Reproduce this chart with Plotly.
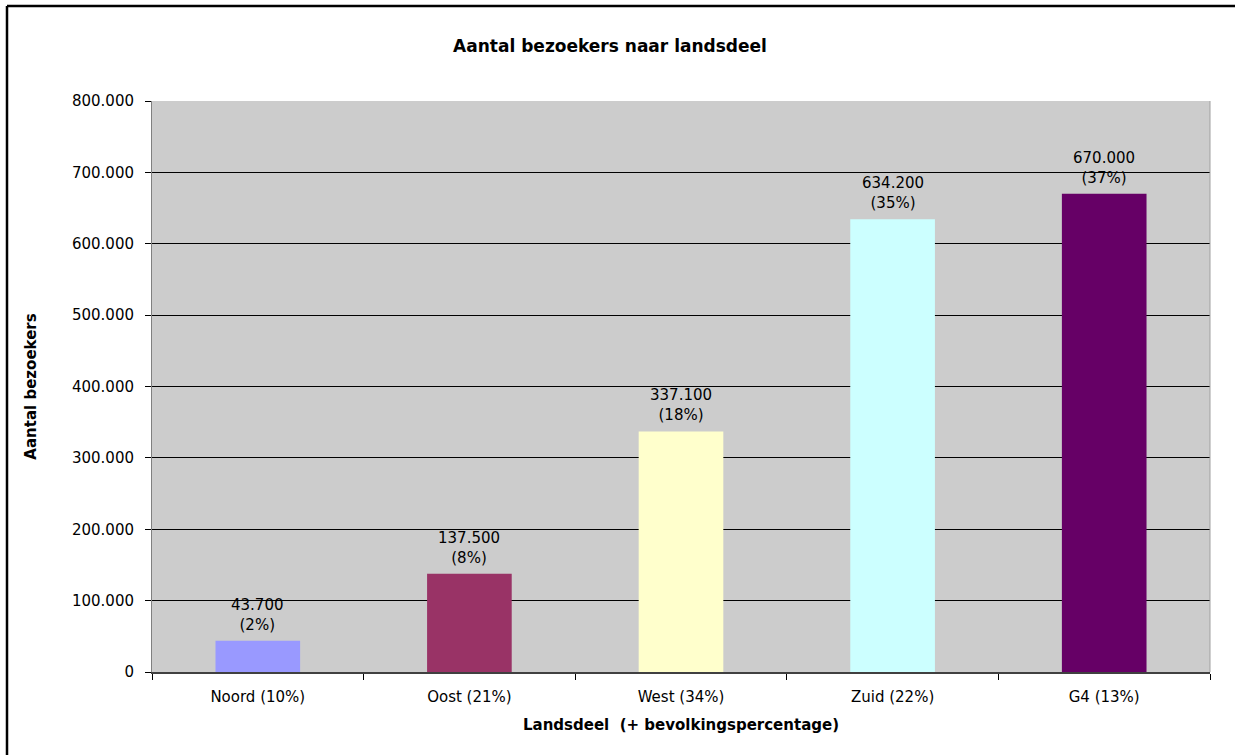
import plotly.graph_objects as go

categories = ["Noord (10%)", "Oost (21%)", "West (34%)", "Zuid (22%)", "G4 (13%)"]
visitors = [43700, 137500, 337100, 634200, 670000]
shares = ["2%", "8%", "18%", "35%", "37%"]
colors = ["#9999FF", "#993366", "#FFFFCC", "#CCFFFF", "#660066"]
y_ticks = [0, 100000, 200000, 300000, 400000, 500000, 600000, 700000, 800000]

labels = [f"{v:,}".replace(",", ".") + f"<br>({s})" for v, s in zip(visitors, shares)]

FONT = "Verdana, DejaVu Sans, sans-serif"
W, H = 1235, 755
L, R, T, B = 152, 25, 101, 83
PW, PH = W - L - R, H - T - B

fig = go.Figure(go.Bar(
    x=categories, y=visitors, marker=dict(color=colors, line=dict(width=0)),
    hoverinfo="x+y",
))
for c, v, lab in zip(categories, visitors, labels):
    fig.add_annotation(x=c, y=v, xref="x", yref="y", text=lab, showarrow=False,
                       yanchor="bottom", yshift=5, font=dict(family=FONT, size=15, color="#000000"))

fig.update_layout(
    width=W, height=H,
    margin=dict(l=L, r=R, t=T, b=B),
    paper_bgcolor="white", plot_bgcolor="#CCCCCC",
    separators=",.",
    bargap=0.6,
    showlegend=False,
    font=dict(family=FONT, size=15, color="#000000"),
    title=dict(text="<b>Aantal bezoekers naar landsdeel</b>", x=(610 - L) / PW, xref="paper",
               xanchor="center", y=1 - 46 / H, yanchor="middle", font=dict(size=17, family=FONT)),
)
fig.update_yaxes(
    range=[0, 800000], tickvals=y_ticks, tickformat=",d",
    showgrid=True, gridcolor="#000000", gridwidth=1,
    showline=True, linecolor="#808080", linewidth=1,
    ticks="outside", ticklen=6, tickcolor="#000000",
    ticklabelstandoff=8,
    tickfont=dict(size=15),
    zeroline=False,
    title=dict(text="<b>Aantal bezoekers</b>", font=dict(size=15), standoff=31),
)
fig.update_xaxes(
    showline=True, linecolor="#404040", linewidth=2,
    ticks="outside", tickson="boundaries", ticklen=6, tickcolor="#000000",
    ticklabelstandoff=10,
    tickfont=dict(size=15),
    title=dict(text="<b>Landsdeel  (+ bevolkingspercentage)</b>", font=dict(size=15), standoff=14),
)
# right edge line of plot area
fig.add_shape(type="line", xref="paper", yref="paper", x0=1, x1=1, y0=0, y1=1,
              line=dict(color="#A0A0A0", width=1))
# outer frame (left and top)
fx = (7 - L) / PW
fy = 1 + (T - 6) / PH
fig.add_shape(type="line", xref="paper", yref="paper", x0=fx, x1=1.2, y0=fy, y1=fy,
              line=dict(color="#000000", width=2.5))
fig.add_shape(type="line", xref="paper", yref="paper", x0=fx, x1=fx, y0=fy, y1=-0.3,
              line=dict(color="#000000", width=2.5))

fig.write_html("out.html", config={"displayModeBar": False},
               post_script="document.body.style.margin='0';")
